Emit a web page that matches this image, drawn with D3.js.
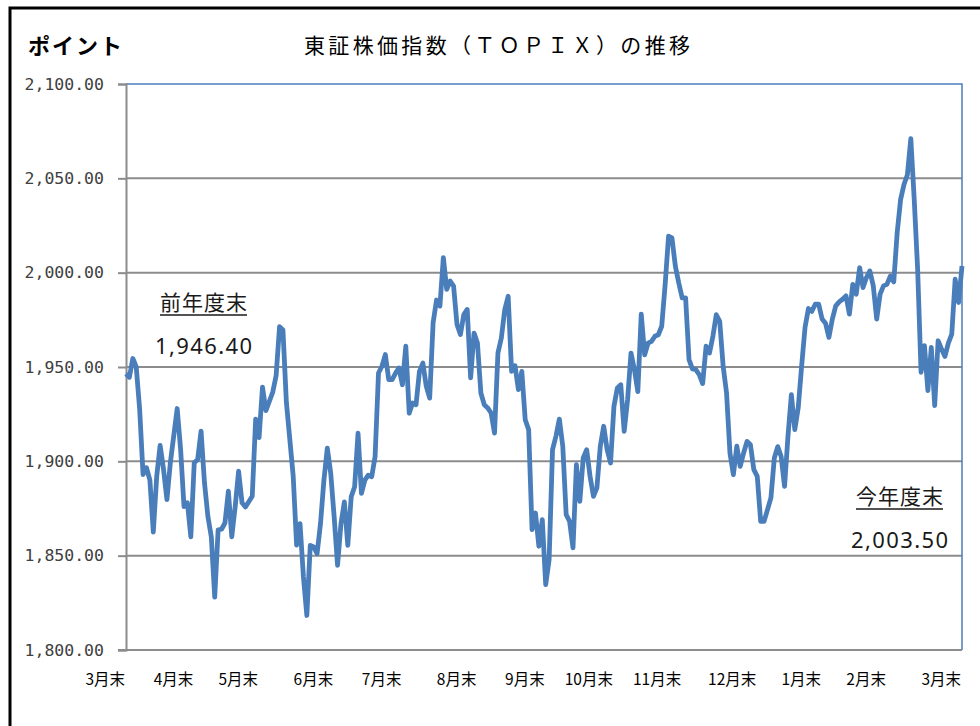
<!DOCTYPE html>
<html>
<head>
<meta charset="utf-8">
<script src="https://cdn.jsdelivr.net/npm/d3@7"></script>
<style>
  body { margin: 0; background: #fff; }
  svg { display: block; }
</style>
</head>
<body>
<div id="chart"></div>
<script>
// TOPIX daily close, FY2022 (trading-day index from 3/31 = 0)
const tradingDay = [0,1,2,3,4,5,6,7,8,9,10,11,12,13,15,16,17,18,19,20,21,22,23,24,25,26,27,28,29,30,31,32,33,34,35,37,38,39,
  40,41,43,44,45,46,47,49,50,51,52,53,54,55,56,57,58,59,60,61,
  62,63,64,65,66,67,68,69,70,71,72,73,74,75,76,77,78,79,80,81,
  82,83,84,85,86,87,88,89,90,91,92,93,94,95,96,97,98,99,100,101,102,103,
  104,105,106,107,108,109,110,111,112,113,114,115,116,117,118,119,120,121,122,123,
  124,125,126,127,128,129,130,131,132,133,134,135,136,137,138,139,140,141,142,143,
  144,145,146,147,148,149,150,151,152,153,154,155,156,157,158,159,160,161,162,163,
  164,165,166,167,168,169,170,171,172,173,174,175,176,177,178,179,180,181,182,183,184,185,
  186,187,188,189,190,191,192,193,194,195,196,197,198,199,200,201,202,203,204,
  205,206,207,208,209,210,211,212,213,214,215,216,217,218,219,220,221,222,223,
  224,225,226,227,228,229,230,231,232,233,234,235,236,237,238,239,240,241,242,243,244,245];

const topix = [1946.4,1944.6,1954.5,1950.0,1927.7,1893.0,1896.6,1890.0,1862.5,1892.0,1908.5,1895.7,1879.7,1899.3,1928.0,1906.4,1876.0,1878.0,1860.0,1899.3,1901.0,1916.0,1888.6,1870.8,1860.0,1828.0,1863.7,1864.0,1867.3,1884.2,1860.0,1876.0,1894.8,1878.0,1875.8,1881.5,1922.4,1912.6,
  1939.3,1926.9,1936.6,1945.5,1971.4,1969.6,1931.3,1892.2,1855.6,1867.0,1838.7,1818.3,1855.5,1854.6,1851.0,1867.0,1890.0,1907.0,1893.6,1870.6,
  1844.9,1867.0,1878.5,1855.5,1881.2,1886.5,1914.9,1883.0,1890.0,1892.7,1891.8,1902.5,1946.8,1950.4,1956.6,1943.3,1943.3,1946.8,1949.5,1940.6,
  1961.0,1925.5,1930.9,1930.0,1947.7,1952.1,1939.7,1933.5,1973.4,1985.5,1982.3,2008.0,1991.1,1995.6,1992.9,1972.5,1967.2,1977.8,1980.5,1944.2,1968.0,1962.7,
  1936.2,1930.0,1928.3,1925.6,1915.0,1957.4,1965.4,1980.4,1987.5,1947.7,1950.7,1938.0,1947.7,1922.0,1916.8,1863.8,1872.6,1855.0,1869.1,1834.6,
  1847.9,1906.2,1913.3,1922.4,1908.0,1871.7,1868.2,1854.1,1898.2,1878.8,1901.8,1906.2,1892.0,1881.4,1885.9,1908.0,1918.6,1906.2,1899.1,1929.2,
  1938.9,1940.6,1915.9,1932.7,1957.4,1948.6,1937.0,1978.0,1956.5,1962.7,1963.6,1966.3,1967.1,1971.6,1993.6,2019.3,2018.4,2003.4,1994.5,1986.6,
  1986.6,1953.9,1949.0,1948.6,1945.9,1941.2,1961.0,1957.4,1966.3,1977.7,1974.2,1950.4,1936.2,1904.4,1892.9,1908.0,1897.3,1904.4,1910.6,1908.8,1895.6,1892.0,
  1868.2,1868.2,1874.4,1880.6,1901.8,1907.8,1902.6,1886.7,1913.3,1935.3,1916.8,1928.3,1950.4,1971.0,1981.0,1979.5,1983.3,1983.3,1975.4,
  1973.2,1965.7,1975.4,1982.4,1984.5,1985.9,1987.7,1978.0,1993.8,1988.6,2002.6,1992.1,1997.4,2000.9,1993.0,1975.4,1988.6,1993.0,1993.8,
  1998.2,1995.1,2021.1,2038.7,2046.7,2051.9,2071.0,2038.7,2001.8,1947.2,1961.3,1937.5,1960.4,1929.6,1963.9,1959.5,1955.6,1962.7,1967.4,1996.5,1984.2,2003.5];

const monthEndDay = [0,20,39,61,81,103,123,143,163,185,204,223,245];
const monthLabels = ["3月末","4月末","5月末","6月末","7月末","8月末","9月末","10月末","11月末","12月末","1月末","2月末","3月末"];
const yTicks = [1800,1850,1900,1950,2000,2050,2100];

const startLabel = "前年度末", startValue = "1,946.40";
const endLabel = "今年度末", endValue = "2,003.50";

const width = 980, height = 726;
const margin = { top: 84, right: 18, bottom: 76, left: 126 };

const svg = d3.select("#chart").append("svg")
  .attr("width", width)
  .attr("height", height);

// outer frame
svg.append("rect")
  .attr("x", 10).attr("y", 8)
  .attr("width", 1000).attr("height", 760)
  .attr("fill", "none")
  .attr("stroke", "#000")
  .attr("stroke-width", 3);

const x = d3.scaleLinear()
  .domain([0, 245])
  .range([margin.left, width - margin.right]);

const y = d3.scaleLinear()
  .domain([1800, 2100])
  .range([height - margin.bottom, margin.top]);

// gridlines
svg.append("g")
  .selectAll("line")
  .data(yTicks.slice(1, -1))
  .join("line")
  .attr("x1", x(0)).attr("x2", x(245))
  .attr("y1", d => y(d)).attr("y2", d => y(d))
  .attr("stroke", "#8c8c8c")
  .attr("stroke-width", 2);

// plot area border (top / right)
svg.append("path")
  .attr("d", `M${x(0)},${y(2100)}H${x(245)}V${y(1800)}`)
  .attr("fill", "none")
  .attr("stroke", "#4a7ebb")
  .attr("stroke-width", 1.5);

// y axis
const yAxis = d3.axisLeft(y)
  .tickValues(yTicks)
  .tickSize(8)
  .tickPadding(14)
  .tickFormat(d3.format(",.2f"));

const gy = svg.append("g")
  .attr("transform", `translate(${x(0)},0)`)
  .call(yAxis);
gy.select(".domain").attr("stroke", "#8c8c8c").attr("stroke-width", 2);
gy.selectAll(".tick line").attr("stroke", "#8c8c8c").attr("stroke-width", 2);
gy.selectAll(".tick text")
  .attr("fill", "#404040")
  .style("font-family", "'DejaVu Sans Mono', monospace")
  .style("font-size", "16.5px");

// x axis line
svg.append("line")
  .attr("x1", x(0) - 8).attr("x2", x(245))
  .attr("y1", y(1800)).attr("y2", y(1800))
  .attr("stroke", "#8c8c8c")
  .attr("stroke-width", 2);

// month labels
svg.append("g")
  .selectAll("text")
  .data(monthEndDay)
  .join("text")
  .attr("x", d => x(d) - 1)
  .attr("y", 685)
  .attr("text-anchor", "end")
  .attr("font-family", "'Noto Sans CJK JP', sans-serif")
  .attr("font-size", 15.5)
  .attr("fill", "#000")
  .text((d, i) => monthLabels[i]);

// line
const points = tradingDay.map((d, i) => [d, topix[i]]);
const line = d3.line()
  .x(d => x(d[0]))
  .y(d => y(d[1]));

svg.append("path")
  .datum(points)
  .attr("fill", "none")
  .attr("stroke", "#4a7ebb")
  .attr("stroke-width", 4.8)
  .attr("stroke-linejoin", "round")
  .attr("d", line);

// titles
svg.append("text")
  .attr("x", 28).attr("y", 54)
  .attr("font-family", "'Noto Sans CJK JP', sans-serif")
  .attr("font-size", 22)
  .attr("font-weight", "bold")
  .attr("textLength", 94)
  .attr("lengthAdjust", "spacing")
  .text("ポイント");

svg.append("text")
  .attr("x", 304).attr("y", 53)
  .attr("font-family", "'Noto Sans CJK JP', sans-serif")
  .attr("font-size", 21)
  .attr("textLength", 386)
  .attr("lengthAdjust", "spacing")
  .text("東証株価指数（ＴＯＰＩＸ）の推移");

// annotations
function note(left, right, cyLabel, valueLeft, valueRight, cyValue, label, value) {
  svg.append("text")
    .attr("x", left).attr("y", cyLabel)
    .attr("font-family", "'Noto Sans CJK JP', sans-serif")
    .attr("font-size", 21)
    .attr("fill", "#1a1a1a")
    .attr("textLength", right - left)
    .attr("lengthAdjust", "spacing")
    .text(label);
  svg.append("line")
    .attr("x1", left).attr("x2", right)
    .attr("y1", cyLabel + 5).attr("y2", cyLabel + 5)
    .attr("stroke", "#1a1a1a").attr("stroke-width", 1.5);
  svg.append("text")
    .attr("x", valueLeft).attr("y", cyValue)
    .attr("font-family", "'Noto Sans', sans-serif")
    .attr("font-size", 22)
    .attr("fill", "#1a1a1a")
    .attr("textLength", valueRight - valueLeft)
    .attr("lengthAdjust", "spacing")
    .text(value);
}
note(160, 247, 310, 155, 252, 354, startLabel, startValue);
note(856, 943, 504, 851, 948, 548, endLabel, endValue);
</script>
</body>
</html>
